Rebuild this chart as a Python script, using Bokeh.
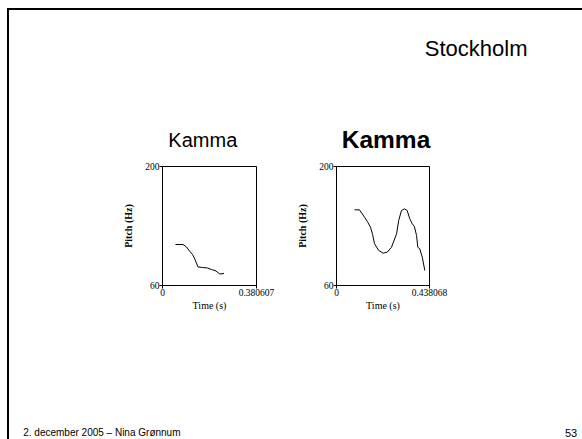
from bokeh.plotting import figure
from bokeh.models import Range1d, Label, FixedTicker, CustomJSTickFormatter, Spacer, Div
from bokeh.layouts import column, row
from bokeh.embed import file_html
from bokeh.resources import INLINE

# ---- data ----
slide_title = "Stockholm"
footer_text = "2. december 2005 \u2013 Nina Gr\u00f8nnum"
page_number = "53"

left_title = "Kamma"
left_tmax = 0.380607
left_time = [0.0526, 0.0830, 0.0972, 0.1093, 0.1215, 0.1316, 0.1437, 0.1620,
             0.1822, 0.1984, 0.2126, 0.2227, 0.2308, 0.2490]
left_pitch = [108.2, 108.2, 105.3, 100.6, 96.5, 90.6, 81.8, 81.2,
              80.6, 78.8, 77.6, 75.9, 73.5, 74.1]

right_title = "Kamma"
right_tmax = 0.438068
right_time = [0.0848, 0.1083, 0.1319, 0.1460, 0.1602, 0.1700, 0.1790, 0.1990,
              0.2200, 0.2390, 0.2590, 0.2830, 0.2930, 0.3060, 0.3200, 0.3330,
              0.3450, 0.3570, 0.3670, 0.3770, 0.3830, 0.3920, 0.4040, 0.4160]
right_pitch = [149.1, 149.0, 140.4, 135.0, 128.6, 120.0, 109.1, 101.2,
               98.0, 99.2, 105.0, 120.8, 136.5, 148.2, 150.2, 148.2,
               138.5, 132.6, 129.4, 118.8, 105.0, 103.2, 93.3, 77.6]

pitch_min, pitch_max = 60, 200
x_label = "Time (s)"
y_label = "Pitch (Hz)"

SANS = "Liberation Sans"
SERIF = "Liberation Serif"

# page geometry: 2px rules at x=7 and y=8; content starts at (9, 10)
BX, BY = 7, 8
X0, Y0 = 9, 10
W, H = 582, 439
HDR_BOTTOM = 155
TOP_PAD = 11
MID_H = 162


def pitch_fig(t, f, tmax, fw):
    p = figure(frame_width=fw, frame_height=119,
               x_range=Range1d(0, tmax), y_range=Range1d(pitch_min, pitch_max),
               output_backend="svg", toolbar_location=None,
               min_border_left=50, min_border_right=25,
               min_border_top=TOP_PAD, min_border_bottom=32)
    p.line(t, f, line_color="black", line_width=1)
    p.grid.visible = False
    p.outline_line_color = "black"
    p.outline_line_width = 1
    p.xaxis.ticker = FixedTicker(ticks=[0, tmax])
    p.xaxis.formatter = CustomJSTickFormatter(code="return String(tick);")
    p.yaxis.ticker = FixedTicker(ticks=[pitch_min, pitch_max])
    for ax in (p.xaxis[0], p.yaxis[0]):
        ax.axis_line_color = "black"
        ax.major_tick_line_color = "black"
        ax.major_tick_out = 3
        ax.major_tick_in = 0
        ax.minor_tick_out = 0
        ax.minor_tick_in = 0
        ax.major_label_standoff = 0
        ax.major_label_text_font = SERIF
        ax.major_label_text_font_size = "9.5px"
        ax.major_label_text_color = "black"
        ax.axis_label_text_font = SERIF
        ax.axis_label_text_color = "black"
    p.xaxis.axis_label = x_label
    p.xaxis.axis_label_text_font_size = "10px"
    p.xaxis.axis_label_text_font_style = "normal"
    p.xaxis.axis_label_standoff = 1
    p.yaxis.axis_label = y_label
    p.yaxis.axis_label_text_font_size = "10px"
    p.yaxis.axis_label_text_font_style = "bold"
    p.yaxis.axis_label_standoff = 8
    return p


def label(x, y, text, size, align="left", style="normal"):
    return Label(x=x, y=y, text=text, text_font=SANS, text_font_size=size,
                 text_font_style=style, text_align=align,
                 text_baseline="middle", text_color="black")


# header (coordinates in page pixels, y downwards)
hdr = figure(width=W - X0, height=HDR_BOTTOM - Y0,
             x_range=Range1d(X0, W), y_range=Range1d(HDR_BOTTOM, Y0),
             output_backend="svg", toolbar_location=None, min_border=0,
             x_axis_location=None, y_axis_location=None)
hdr.grid.visible = False
hdr.outline_line_color = None
hdr.add_layout(label(424.3, 56 - 7.9, slide_title, "22px"))
hdr.add_layout(label(202.3, 146.3 - 7.2, left_title, "20px", align="center"))
hdr.add_layout(label(385.5, 147.3 - 8.8, right_title, "24.5px", align="center", style="bold"))

p1 = pitch_fig(left_time, left_pitch, left_tmax, 94)
p2 = pitch_fig(right_time, right_pitch, right_tmax, 93)

left_fig_x = 162 - 50
gap = (336 - 50) - (left_fig_x + 169)
right_rest = W - (336 - 50 + 168)
mid = row([Spacer(width=left_fig_x - X0, height=MID_H), p1,
           Spacer(width=gap, height=MID_H), p2,
           Spacer(width=right_rest, height=MID_H)])

ftr_top = HDR_BOTTOM + MID_H
ftr = figure(width=W - X0, height=H - ftr_top,
             x_range=Range1d(X0, W), y_range=Range1d(H, ftr_top),
             output_backend="svg", toolbar_location=None, min_border=0,
             x_axis_location=None, y_axis_location=None)
ftr.grid.visible = False
ftr.outline_line_color = None
ftr.add_layout(label(22.7, 436 - 3.6, footer_text, "10px"))
ftr.add_layout(label(576.7, 436 - 4.0, page_number, "11px", align="right"))

top_rule = Div(text="", width=W - BX, height=Y0 - BY, margin=0,
               styles={"background-color": "black"})
left_rule = Div(text="", width=X0 - BX, height=H - Y0, margin=0,
                styles={"background-color": "black"})

body = column([hdr, mid, ftr])
slide = column([top_rule, row([left_rule, body])])
page = column([Spacer(width=W, height=BY),
               row([Spacer(width=BX, height=H - BY), slide])],
              styles={"position": "absolute", "top": "0px", "left": "0px",
                      "overflow": "hidden"})

open("out.html", "w").write(file_html(page, INLINE))
